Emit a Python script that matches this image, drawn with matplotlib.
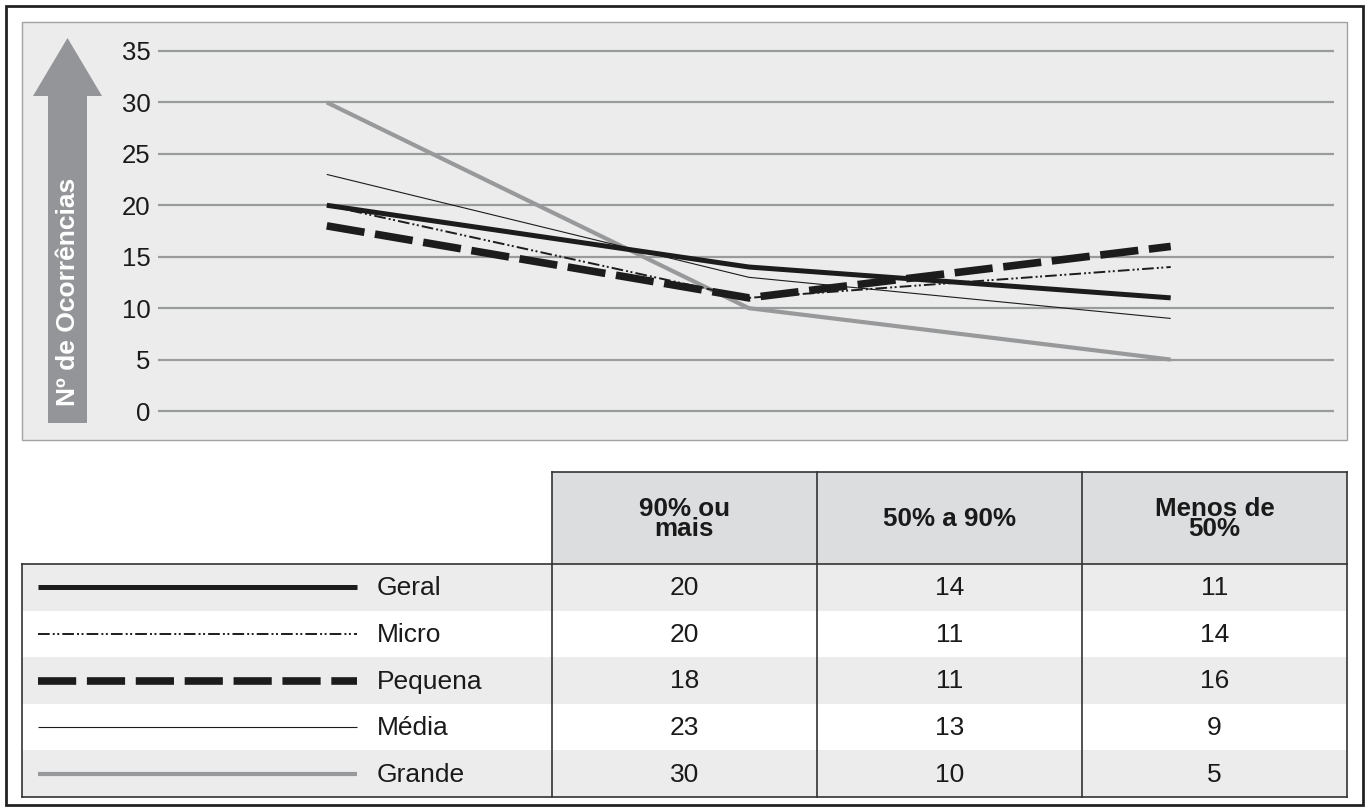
import matplotlib
matplotlib.use("Agg")
import matplotlib.pyplot as plt
from matplotlib.patches import Rectangle, Polygon
import numpy as np

plt.rcParams['font.family'] = ['Liberation Sans', 'DejaVu Sans']

# ---- data ----
categories = ["90% ou\nmais", "50% a 90%", "Menos de\n50%"]
series_names = ["Geral", "Micro", "Pequena", "Média", "Grande"]
geral = [20, 14, 11]
micro = [20, 11, 14]
pequena = [18, 11, 16]
media = [23, 13, 9]
grande = [30, 10, 5]
yticks = [0, 5, 10, 15, 20, 25, 30, 35]
ylabel = "Nº de Ocorrências"

values = {"Geral": geral, "Micro": micro, "Pequena": pequena, "Média": media, "Grande": grande}

styles = {
    "Geral": dict(color="#1c1c1c", lw=3.6, solid_capstyle="butt"),
    "Micro": dict(color="#1c1c1c", lw=1.4, linestyle=(0, (6, 1.6, 1, 1.3, 1, 1.6)), dash_capstyle="butt"),
    "Pequena": dict(color="#1c1c1c", lw=5.5, linestyle=(0, (5, 1.4)), dash_capstyle="butt"),
    "Média": dict(color="#1c1c1c", lw=0.8, solid_capstyle="butt"),
    "Grande": dict(color="#98999b", lw=3.0, solid_capstyle="butt"),
}
draw_order = ["Grande", "Média", "Geral", "Micro", "Pequena"]

W, H = 1367, 807
fig = plt.figure(figsize=(W / 100, H / 100), dpi=100)
fig.patch.set_facecolor("white")

# overlay axes in pixel coordinates
ov = fig.add_axes([0, 0, 1, 1], zorder=0)
ov.set_xlim(0, W)
ov.set_ylim(H, 0)
ov.axis("off")

# outer border
ov.add_patch(Rectangle((6, 6), 1357, 799, fill=False, ec="#222222", lw=2.0))
# chart panel
ov.add_patch(Rectangle((22, 22), 1325, 418, fc="#ececec", ec="#a3a3a3", lw=1.0))
# arrow
ov.add_patch(Polygon([(48, 423), (48, 96), (33, 96), (67.5, 38), (102, 96), (87, 96), (87, 423)],
                     closed=True, fc="#949598", ec="none"))
ov.text(68, 292, ylabel, rotation=90, ha="center", va="center", color="white",
        fontsize=19, fontweight="bold")

# ---- chart axes ----
x0_px, x1_px = 158, 1334
y_top_px, y_bot_px = 40.7, 421.3
ax = fig.add_axes([x0_px / W, 1 - y_bot_px / H, (x1_px - x0_px) / W, (y_bot_px - y_top_px) / H], zorder=1)
ax.patch.set_alpha(0)
ax.set_xlim(-0.40, 2.387)
ax.set_ylim(-1, 36)
ax.set_yticks(yticks)
ax.set_xticks([])
ax.tick_params(axis="y", length=0, pad=5.5, labelsize=18.5, labelcolor="#1a1a1a")
ax.grid(axis="y", color="#9a9b9d", lw=1.6)
ax.set_axisbelow(True)
for s in ax.spines.values():
    s.set_visible(False)

xs = np.arange(len(categories))
for name in draw_order:
    ax.plot(xs, values[name], **styles[name])

# ---- table ----
col_edges = [552, 817, 1082, 1347]
hdr_top, hdr_bot = 472, 564
tbl_left, tbl_bot = 22, 797
row_h = (tbl_bot - hdr_bot) / len(series_names)
edge_c = "#333333"

for i in range(3):
    ov.add_patch(Rectangle((col_edges[i], hdr_top), col_edges[i + 1] - col_edges[i], hdr_bot - hdr_top,
                           fc="#dcdddf", ec="none"))
    ov.text((col_edges[i] + col_edges[i + 1]) / 2, (hdr_top + hdr_bot) / 2 + 1, categories[i],
            ha="center", va="center", fontsize=18.7, fontweight="bold", linespacing=0.82, color="#1a1a1a")

for r, name in enumerate(series_names):
    yt = hdr_bot + r * row_h
    fc = "#ececec" if r % 2 == 0 else "white"
    ov.add_patch(Rectangle((tbl_left, yt), col_edges[-1] - tbl_left, row_h, fc=fc, ec="none"))
    yc = yt + row_h / 2
    ov.plot([38, 357], [yc, yc], **styles[name])
    ov.text(377, yc + 1, name, ha="left", va="center", fontsize=19, color="#1a1a1a")
    for c in range(3):
        ov.text((col_edges[c] + col_edges[c + 1]) / 2, yc + 1, str(values[name][c]),
                ha="center", va="center", fontsize=19, color="#1a1a1a")

# table borders
lw_t = 1.2
ov.plot([tbl_left, col_edges[-1]], [hdr_bot, hdr_bot], color=edge_c, lw=lw_t)
ov.plot([tbl_left, col_edges[-1]], [tbl_bot, tbl_bot], color=edge_c, lw=lw_t)
ov.plot([tbl_left, tbl_left], [hdr_bot, tbl_bot], color=edge_c, lw=lw_t)
ov.plot([col_edges[0], col_edges[-1]], [hdr_top, hdr_top], color=edge_c, lw=lw_t)
for xe in col_edges:
    ov.plot([xe, xe], [hdr_top, tbl_bot], color=edge_c, lw=lw_t)

fig.savefig("out.png", dpi=100)
